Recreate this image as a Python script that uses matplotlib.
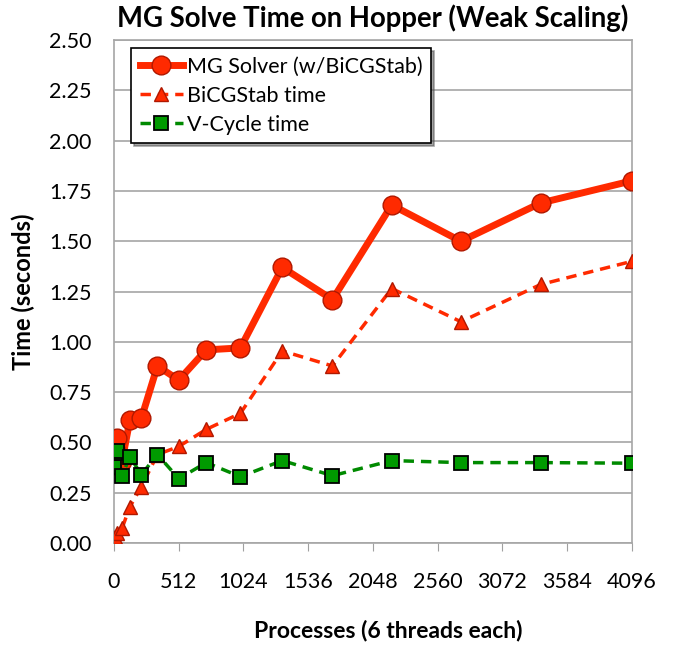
from matplotlib import pyplot as plt

# processes (cubes 1^3 .. 16^3)
procs = [1, 8, 27, 64, 125, 216, 343, 512, 729, 1000, 1331, 1728, 2197, 2744, 3375, 4096]

mg_time = [0.39, 0.47, 0.52, 0.41, 0.61, 0.62, 0.88, 0.81, 0.96, 0.97,
           1.37, 1.21, 1.68, 1.50, 1.69, 1.80]
bicg_time = [0.005, 0.03, 0.05, 0.075, 0.18, 0.28, 0.44, 0.48, 0.565, 0.645,
             0.955, 0.88, 1.265, 1.10, 1.285, 1.40]
vcycle_time = [0.38, 0.45, 0.46, 0.335, 0.43, 0.34, 0.44, 0.32, 0.40, 0.33,
               0.41, 0.335, 0.41, 0.40, 0.40, 0.397]

x_ticks = [0, 512, 1024, 1536, 2048, 2560, 3072, 3584, 4096]
y_ticks = [0.0, 0.25, 0.5, 0.75, 1.0, 1.25, 1.5, 1.75, 2.0, 2.25, 2.5]

plt.rcParams['font.family'] = ['Lato', 'DejaVu Sans']

fig = plt.figure(figsize=(6.83, 6.45), dpi=100)
ax = fig.add_axes([0.167, 0.158, 0.758, 0.78])

red = '#ff2a00'
green = '#008a00'

ax.plot(procs, mg_time, color=red, lw=5, marker='o', markersize=13.5,
        markerfacecolor=red, markeredgecolor='#b01800', markeredgewidth=1,
        label='MG Solver (w/BiCGStab)', zorder=4)
ax.plot(procs, bicg_time, color=red, lw=2.5, ls=(0, (3, 2)), marker='^', markersize=10,
        markerfacecolor=red, markeredgecolor='#b01800', markeredgewidth=1,
        label='BiCGStab time', zorder=3)
ax.plot(procs, vcycle_time, color=green, lw=2.5, ls=(0, (3, 2)), marker='s', markersize=10,
        markerfacecolor='#009a00', markeredgecolor='black', markeredgewidth=1.3,
        label='V-Cycle time', zorder=5)

ax.set_xlim(0, 4096)
ax.set_ylim(0, 2.5)
ax.set_xticks(x_ticks)
ax.set_xticklabels([str(t) for t in x_ticks])
ax.set_yticks(y_ticks)
ax.set_yticklabels(['%.2f' % t for t in y_ticks])
ax.tick_params(axis='both', labelsize=15.5, colors='#a0a0a0', labelcolor='black')
ax.tick_params(axis='y', length=0, pad=16)
ax.tick_params(axis='x', length=6, direction='out', pad=15)

ax.grid(axis='y', color='#a6a6a6', lw=1.2)
ax.set_axisbelow(True)
for s in ax.spines.values():
    s.set_color('#a6a6a6')
    s.set_linewidth(1.2)

ax.set_title('MG Solve Time on Hopper (Weak Scaling)', fontsize=19.8, fontweight='bold', pad=9)
ax.set_xlabel('Processes (6 threads each)', fontsize=16.5, fontweight='bold', labelpad=20)
ax.xaxis.label.set_x(0.529)
ax.set_ylabel('Time (seconds)', fontsize=17, fontweight='bold', labelpad=10)

leg = ax.legend(loc='upper left', bbox_to_anchor=(0.033, 0.984), fontsize=15.5, frameon=True,
                fancybox=False, shadow=True, borderpad=0.4, handlelength=2.0,
                handletextpad=0.2, labelspacing=0.42, borderaxespad=0)
leg.get_frame().set_edgecolor('black')
leg.get_frame().set_linewidth(1.2)

plt.savefig('out.png', dpi=100)
